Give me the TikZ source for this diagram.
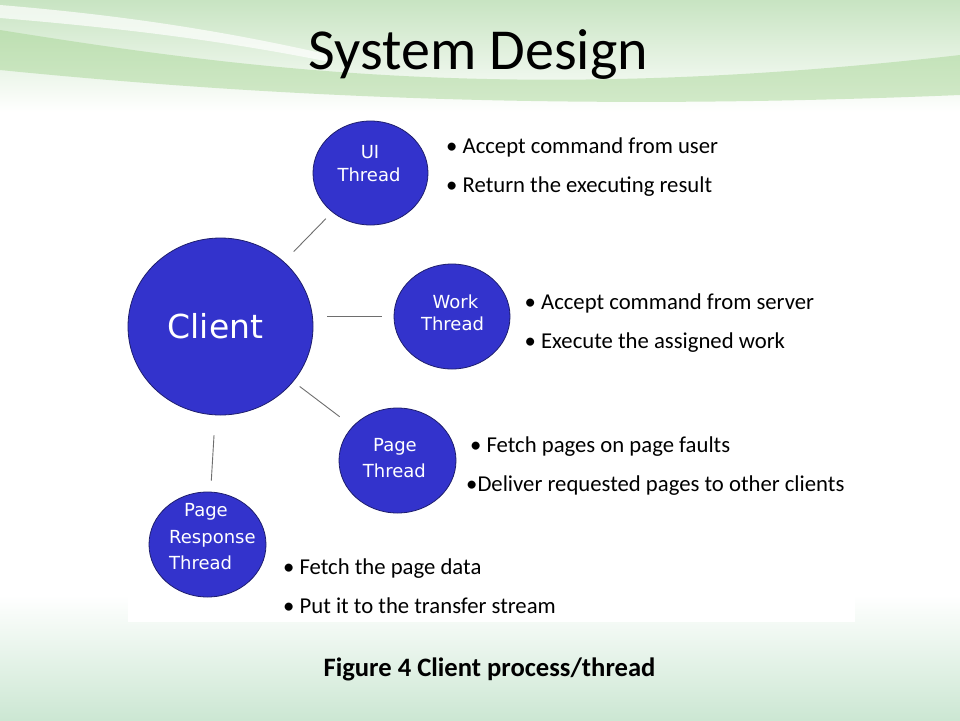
\documentclass[tikz,border=0pt]{standalone}
\usepackage{fontspec}
\setmainfont{Carlito}
\newfontfamily\circfont{DejaVu Sans}
\usetikzlibrary{shapes.geometric}
\definecolor{cblue}{RGB}{51,51,204}
\definecolor{cedge}{RGB}{30,30,110}
\definecolor{conncol}{RGB}{110,110,110}
\definecolor{topgreen}{RGB}{200,228,194}
\definecolor{swooshcol}{RGB}{160,210,140}
\definecolor{botgreen}{RGB}{204,231,211}
\begin{document}
\begin{tikzpicture}[x=1pt,y=-1pt,
  bubble/.style={ellipse, fill=cblue, draw=cedge, line width=0.8pt, inner sep=0pt},
  ctext/.style={text=white, font=\circfont\fontsize{18}{20}\selectfont, anchor=base, inner sep=0pt},
  btext/.style={font=\fontsize{22.7}{26}\selectfont, anchor=base west, inner sep=0pt},
  conn/.style={draw=conncol, line width=0.9pt}]
\useasboundingbox (0,0) rectangle (960,720);
% background
\fill[white] (0,0) rectangle (960,720);
\shade[top color=topgreen, bottom color=white] (0,0) rectangle (960,112);
\fill[swooshcol, opacity=0.45] (0,30) .. controls (250,70) and (520,105) .. (960,55)
   -- (960,95) .. controls (600,110) and (300,100) .. (0,70) -- cycle;
\fill[white, opacity=0.7] (0,5) .. controls (120,15) and (220,30) .. (330,55)
   -- (330,62) .. controls (220,40) and (120,28) .. (0,18) -- cycle;
\shade[top color=white, bottom color=botgreen] (0,595) rectangle (960,720);
\fill[white] (128,112) rectangle (855,622);
% title
\node[font=\fontsize{58}{66}\selectfont, anchor=base, inner sep=0pt] (title) at (478.5,69) {System Design};
% bubbles
\node[bubble, minimum width=185pt, minimum height=177pt] (client) at (220.5,326.5) {};
\node[bubble, minimum width=115pt, minimum height=104pt] (ui) at (370.5,173) {};
\node[bubble, minimum width=116pt, minimum height=105pt] (work) at (452,316.5) {};
\node[bubble, minimum width=117pt, minimum height=105pt] (page) at (397.5,460.5) {};
\node[bubble, minimum width=117pt, minimum height=105pt] (resp) at (207.5,544.5) {};
% bubble texts
\node[ctext, font=\circfont\fontsize{33}{36}\selectfont] (clientT) at (215.5,338.3) {Client};
\node[ctext] (uiA) at (370,158) {UI};
\node[ctext] (uiB) at (369,181.7) {Thread};
\node[ctext] (wkA) at (455.5,308.3) {Work};
\node[ctext] (wkB) at (452.5,330.7) {Thread};
\node[ctext] (pgA) at (395,451.7) {Page};
\node[ctext] (pgB) at (394.4,477) {Thread};
\node[ctext, anchor=base west] (rsA) at (184,516.7) {Page};
\node[ctext, anchor=base west] (rsB) at (169,543.3) {Response};
\node[ctext, anchor=base west] (rsC) at (169,569) {Thread};
% connectors
\draw[conn, shorten <=14pt, shorten >=9pt] (client) -- (ui);
\draw[conn, shorten <=14pt, shorten >=12pt] (client.east |- work.west) -- (work.west);
\draw[conn, shorten <=8pt, shorten >=16pt] (client) -- (page);
\draw[conn, shorten <=20pt, shorten >=11pt] (client) -- (resp);
% bullet texts
\node[btext] (b1) at (446,153) {\textbullet{} Accept command from user};
\node[btext] (b2) at (446,192.7) {\textbullet{} Return the executing result};
\node[btext] (b3) at (524.5,309) {\textbullet{} Accept command from server};
\node[btext] (b4) at (524.5,348) {\textbullet{} Execute the assigned work};
\node[btext] (b5) at (470,452) {\textbullet{} Fetch pages on page faults};
\node[btext] (b6) at (466,491.7) {\textbullet Deliver requested pages to other clients};
\node[btext] (b7) at (283,574) {\textbullet{} Fetch the page data};
\node[btext] (b8) at (283,613) {\textbullet{} Put it to the transfer stream};
% caption
\node[font=\bfseries\fontsize{26.6}{31}\selectfont, anchor=base, inner sep=0pt] (cap) at (489.5,676.7) {Figure 4 Client process/thread};
\end{tikzpicture}
\end{document}
